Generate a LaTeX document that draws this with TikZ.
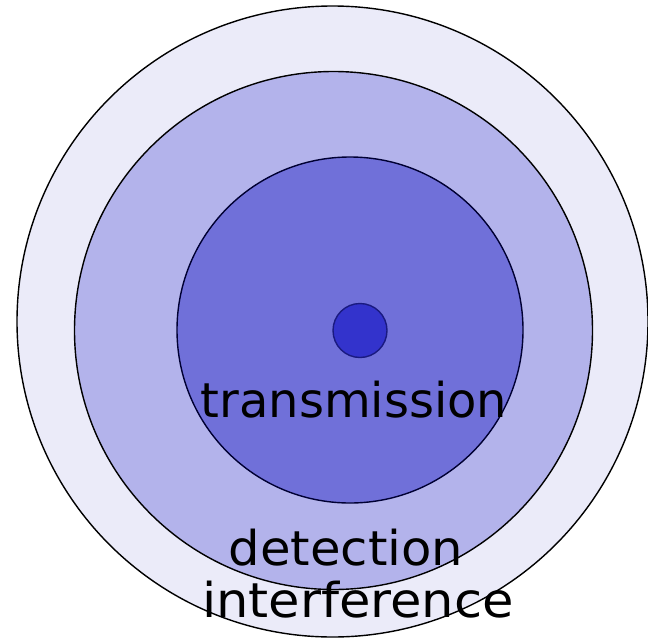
\documentclass[tikz,border=0pt]{standalone}
\usepackage{fontspec}
\setmainfont{DejaVu Sans}
\definecolor{outerfill}{HTML}{EBEBF9}
\definecolor{midfill}{HTML}{B3B3EB}
\definecolor{innerfill}{HTML}{7070D9}
\definecolor{dotfill}{HTML}{3333CC}
\definecolor{innerline}{HTML}{000033}
\definecolor{dotline}{HTML}{1A1A80}
\tikzset{
  ring/.style={circle, line width=1.4pt, inner sep=0pt},
  label/.style={inner sep=0pt, anchor=base, font=\fontsize{48}{48}\selectfont}
}
\begin{document}
\begin{tikzpicture}[x=1pt,y=-1pt]
\useasboundingbox (0,0) rectangle (648,640);
\node[ring, draw=black, fill=outerfill, minimum size=631pt] (outer) at (332.5,321.5) {};
\node[ring, draw=black, fill=midfill, minimum size=518pt] (middle) at (333.5,330.5) {};
\node[ring, draw=innerline, fill=innerfill, minimum size=346pt] (inner) at (350,330) {};
\node[ring, draw=dotline, fill=dotfill, minimum size=54pt] (dot) at (360,330.5) {};
\node[label] (transmission) at (354,417) {\scalebox{1.0}[1]{transmission}};
\node[label] (detection) at (346,565) {\scalebox{1.035}[1]{detection}};
\node[label] (interference) at (358,617) {\scalebox{1.065}[1]{interference}};
\end{tikzpicture}
\end{document}
